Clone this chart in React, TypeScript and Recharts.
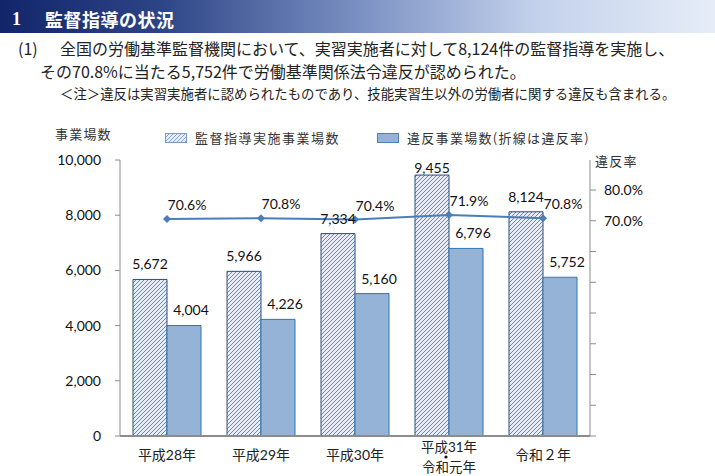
import React from "react";
import { ComposedChart, Bar, Line, XAxis, YAxis, LabelList } from "recharts";

const categories = ["平成28年", "平成29年", "平成30年", "平成31年・令和元年", "令和２年"];
const inspectedCounts = [5672, 5966, 7334, 9455, 8124];
const violationCounts = [4004, 4226, 5160, 6796, 5752];
const violationRates = [70.6, 70.8, 70.4, 71.9, 70.8];
const leftTicks = [0, 2000, 4000, 6000, 8000, 10000];
const rightTicks = [0, 10, 20, 30, 40, 50, 60, 70, 80];
const rightTickLabels: Record<number, string> = { 70: "70.0%", 80: "80.0%" };

const data = categories.map((c, i) => ({
  category: c,
  inspected: inspectedCounts[i],
  violations: violationCounts[i],
  rate: violationRates[i],
}));

const NUM_FONT = "Lato, 'Noto Sans', sans-serif";
const CJK_FONT = "'Noto Sans CJK JP', 'Noto Sans', sans-serif";
const LINE_COLOR = "#4a7ebb";

const XTick = (props: any) => {
  const { x, y, payload } = props;
  const parts = String(payload.value).split("・");
  const style = { fontFamily: NUM_FONT + ", " + CJK_FONT, fontSize: 14, fill: "#222" };
  if (parts.length === 1) {
    return (
      <text x={x} y={y + 16} textAnchor="middle" style={style}>
        {parts[0]}
      </text>
    );
  }
  return (
    <g>
      <text x={x} y={y + 8} textAnchor="middle" style={{ ...style, fontSize: 13.5 }}>{parts[0]}</text>
      <circle cx={x - 3} cy={y + 13} r={1.6} fill="#111" />
      <text x={x} y={y + 28} textAnchor="middle" style={{ ...style, fontSize: 13.5 }}>{parts[1]}</text>
    </g>
  );
};

const RightTick = (props: any) => {
  const { x, y, payload } = props;
  const label = rightTickLabels[payload.value];
  if (!label) return null;
  return (
    <text x={x} y={y} dy="0.355em" textAnchor="start" style={{ fontFamily: NUM_FONT, fontSize: 14, fill: "#111" }}>
      {label}
    </text>
  );
};

const makeBarLabel = (dx: number) => (props: any) => {
  const { x, y, width, value } = props;
  const by = Math.max(Number(y) - 10, 173);
  return (
    <text x={Number(x) + Number(width) / 2 + dx} y={by} textAnchor="middle" style={{ fontFamily: NUM_FONT, fontSize: 14, fill: "#111" }}>
      {Number(value).toLocaleString("en-US")}
    </text>
  );
};

const RateLabel = (props: any) => {
  const { x, y, value } = props;
  return (
    <text x={Number(x) + 20} y={Number(y) - 9} textAnchor="middle" style={{ fontFamily: NUM_FONT, fontSize: 14, fill: "#111" }}>
      {Number(value).toFixed(1)}%
    </text>
  );
};

const Diamond = (props: any) => {
  const { cx, cy } = props;
  if (cx == null || cy == null) return null;
  return <path d={`M${cx},${cy - 4} L${cx + 4},${cy} L${cx},${cy + 4} L${cx - 4},${cy} Z`} fill={LINE_COLOR} />;
};

const HatchDefs = () => (
  <defs>
    <pattern id="hatch" patternUnits="userSpaceOnUse" width="4" height="4">
      <rect width="4" height="4" fill="#e6edf6" />
      <path d="M-1,1 l2,-2 M0,4 l4,-4 M3,5 l2,-2" stroke="#6b86b0" strokeWidth="1" />
    </pattern>
  </defs>
);

export default function App() {
  return (
    <div style={{ position: "absolute", left: 0, top: 0, width: 715, height: 476, background: "#fff", overflow: "hidden" }}>
      {/* Banner */}
      <div
        style={{
          position: "absolute", left: 0, top: 0, width: 715, height: 33,
          background: "linear-gradient(to right, #12256a 0%, #2c4486 22%, #7a90c2 50%, #c3d1eb 75%, #e6edf8 100%)",
        }}
      />
      <div style={{ position: "absolute", left: 12, top: 9, lineHeight: "20px", fontSize: 18, fontWeight: 700, color: "#fff", fontFamily: "'Liberation Serif', serif" }}>1</div>
      <div style={{ position: "absolute", left: 45, top: 8, lineHeight: "22px", fontSize: 18, fontWeight: 700, color: "#fff", fontFamily: CJK_FONT, letterSpacing: 0.5 }}>監督指導の状況</div>

      {/* Paragraph */}
      <div style={{ position: "absolute", left: 18, top: 39, lineHeight: "18px", fontSize: 16, color: "#222", fontFamily: CJK_FONT }}>(1)</div>
      <div style={{ position: "absolute", left: 60, top: 39, lineHeight: "18px", fontSize: 16, color: "#222", fontFamily: CJK_FONT, whiteSpace: "nowrap" }}>
        全国の労働基準監督機関において、実習実施者に対して8,124件の監督指導を実施し、
      </div>
      <div style={{ position: "absolute", left: 40, top: 62, lineHeight: "18px", fontSize: 16, color: "#222", fontFamily: CJK_FONT, whiteSpace: "nowrap" }}>
        その70.8%に当たる5,752件で労働基準関係法令違反が認められた。
      </div>
      <div style={{ position: "absolute", left: 60, top: 85, lineHeight: "16px", fontSize: 13.4, color: "#222", fontFamily: CJK_FONT, whiteSpace: "nowrap" }}>
        ＜注＞違反は実習実施者に認められたものであり、技能実習生以外の労働者に関する違反も含まれる。
      </div>

      {/* Axis titles */}
      <div style={{ position: "absolute", left: 55, top: 126, lineHeight: "16px", fontSize: 13, color: "#333", fontFamily: CJK_FONT, letterSpacing: 1.2 }}>事業場数</div>
      <div style={{ position: "absolute", left: 595, top: 153, lineHeight: "16px", fontSize: 13, color: "#333", fontFamily: CJK_FONT, letterSpacing: 1.2 }}>違反率</div>

      {/* Legend */}
      <div style={{ position: "absolute", left: 165, top: 133, width: 22, height: 10, boxSizing: "border-box", border: "1px solid #7d98c4", background: "repeating-linear-gradient(135deg, #e6edf6 0px, #e6edf6 1.6px, #8aa2c8 1.6px, #8aa2c8 2.8px)" }} />
      <div style={{ position: "absolute", left: 195, top: 130, lineHeight: "16px", fontSize: 13, color: "#333", fontFamily: CJK_FONT, letterSpacing: 1.5, whiteSpace: "nowrap" }}>監督指導実施事業場数</div>
      <div style={{ position: "absolute", left: 377, top: 133, width: 22, height: 10, boxSizing: "border-box", border: "1px solid #4f81bd", background: "#95b3d7" }} />
      <div style={{ position: "absolute", left: 407, top: 130, lineHeight: "16px", fontSize: 13, color: "#333", fontFamily: CJK_FONT, letterSpacing: 1.3, whiteSpace: "nowrap" }}>違反事業場数(折線は違反率)</div>

      {/* Chart */}
      <div style={{ position: "absolute", left: 0, top: 0 }}>
        <ComposedChart
          width={715}
          height={476}
          data={data}
          margin={{ top: 160, right: 65, bottom: 0, left: 60 }}
          barGap={0}
        >
          <HatchDefs />
          <XAxis
            dataKey="category"
            height={40}
            tick={<XTick />}
            tickLine={false}
            axisLine={{ stroke: "#8c8c8c", strokeWidth: 2 }}
            interval={0}
          />
          <YAxis
            yAxisId="left"
            width={60}
            domain={[0, 10000]}
            ticks={leftTicks}
            tickSize={5}
            tickMargin={14}
            tickLine={{ stroke: "#8c8c8c" }}
            axisLine={{ stroke: "#8c8c8c" }}
            tickFormatter={(v: number) => v.toLocaleString("en-US")}
            tick={{ fontFamily: NUM_FONT, fontSize: 14, fill: "#111" }}
          />
          <YAxis
            yAxisId="right"
            orientation="right"
            width={60}
            domain={[0, 89.76]}
            ticks={rightTicks}
            tickSize={6}
            tickMargin={8}
            tickLine={{ stroke: "#8c8c8c" }}
            axisLine={{ stroke: "#8c8c8c" }}
            tick={<RightTick />}
            allowDataOverflow
          />
          <Bar yAxisId="left" dataKey="inspected" barSize={34} fill="url(#hatch)" stroke="#2b4c80" strokeWidth={1} isAnimationActive={false}>
            <LabelList dataKey="inspected" content={makeBarLabel(0)} />
          </Bar>
          <Bar yAxisId="left" dataKey="violations" barSize={34} fill="#95b3d7" stroke="#2f75b5" strokeWidth={1} isAnimationActive={false}>
            <LabelList dataKey="violations" content={makeBarLabel(7)} />
          </Bar>
          <Line
            yAxisId="right"
            dataKey="rate"
            stroke={LINE_COLOR}
            strokeWidth={2}
            dot={<Diamond />}
            activeDot={false}
            isAnimationActive={false}
          >
            <LabelList dataKey="rate" content={<RateLabel />} />
          </Line>
        </ComposedChart>
      </div>
    </div>
  );
}
